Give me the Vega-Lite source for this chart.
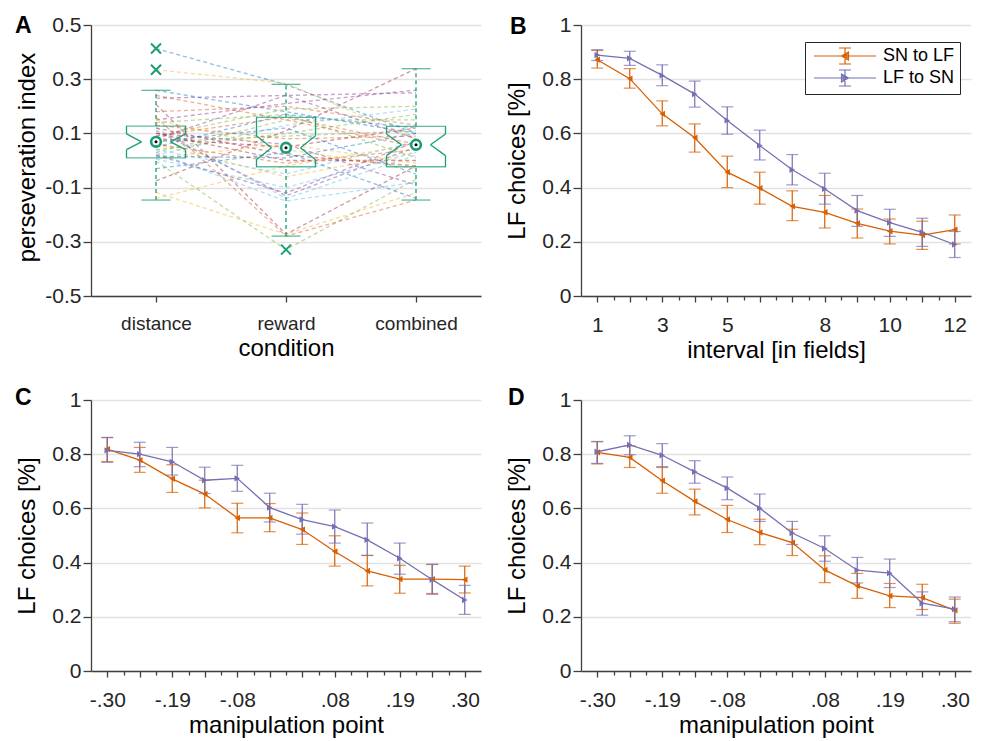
{
  "$schema": "https://vega.github.io/schema/vega-lite/v6.json",
  "padding": {"left": 14, "top": 14, "right": 8, "bottom": 8},
  "columns": 2,
  "spacing": {"column": 100, "row": 104},
  "bounds": "flush",
  "resolve": {"scale": {"color": "independent", "shape": "independent", "x": "independent", "y": "independent"}},
  "datasets": {
    "subj": [
      {"s":"s01","distance":0.413,"reward":0.28,"combined":0.1},
      {"s":"s02","distance":0.24,"reward":0.15,"combined":0.05},
      {"s":"s03","distance":0.335,"reward":0.285,"combined":0.08},
      {"s":"s04","distance":0.23,"reward":0.24,"combined":0.25},
      {"s":"s05","distance":-0.002,"reward":-0.329,"combined":-0.069},
      {"s":"s06","distance":0.12,"reward":-0.14,"combined":0.02},
      {"s":"s07","distance":0.207,"reward":-0.272,"combined":-0.02},
      {"s":"s08","distance":0.259,"reward":0.18,"combined":0.1},
      {"s":"s09","distance":0.18,"reward":0.2,"combined":0.13},
      {"s":"s10","distance":-0.118,"reward":-0.272,"combined":-0.12},
      {"s":"s11","distance":0.15,"reward":0.21,"combined":0.26},
      {"s":"s12","distance":0.09,"reward":0.19,"combined":0.2},
      {"s":"s13","distance":0.03,"reward":-0.15,"combined":-0.08},
      {"s":"s14","distance":-0.075,"reward":0.11,"combined":0.339},
      {"s":"s15","distance":0.05,"reward":0.17,"combined":0.12},
      {"s":"s16","distance":0.16,"reward":-0.279,"combined":-0.146},
      {"s":"s17","distance":0.06,"reward":-0.06,"combined":0.03},
      {"s":"s18","distance":0.11,"reward":-0.13,"combined":0.05},
      {"s":"s19","distance":0.04,"reward":0.1,"combined":0.17},
      {"s":"s20","distance":0.02,"reward":0.13,"combined":0.19},
      {"s":"s21","distance":0.1,"reward":0.0,"combined":0.0},
      {"s":"s22","distance":0.07,"reward":0.12,"combined":-0.05},
      {"s":"s23","distance":0.13,"reward":0.08,"combined":0.09},
      {"s":"s24","distance":0.01,"reward":0.06,"combined":-0.01},
      {"s":"s25","distance":0.08,"reward":0.24,"combined":0.08},
      {"s":"s26","distance":0.07,"reward":0.09,"combined":0.11},
      {"s":"s27","distance":0.04,"reward":-0.05,"combined":0.07},
      {"s":"s28","distance":0.12,"reward":0.02,"combined":-0.02},
      {"s":"s29","distance":-0.03,"reward":0.03,"combined":-0.14},
      {"s":"s30","distance":0.09,"reward":0.16,"combined":0.06},
      {"s":"s31","distance":-0.14,"reward":-0.02,"combined":0.06},
      {"s":"s32","distance":0.1,"reward":0.06,"combined":-0.09},
      {"s":"s33","distance":0.14,"reward":0.17,"combined":0.01},
      {"s":"s34","distance":0.005,"reward":-0.1,"combined":0.03},
      {"s":"s35","distance":0.08,"reward":0.05,"combined":0.12},
      {"s":"s36","distance":0.015,"reward":0.01,"combined":0.1},
      {"s":"s37","distance":0.06,"reward":-0.01,"combined":0.04},
      {"s":"s38","distance":0.15,"reward":0.04,"combined":-0.03},
      {"s":"s39","distance":0.02,"reward":-0.12,"combined":0.07},
      {"s":"s40","distance":0.03,"reward":0.15,"combined":0.15}
    ],
    "box": [
      {"cond":"distance","wlo":-0.146,"q1":0.01,"nlo":0.04,"med":0.069,"nhi":0.098,"q3":0.127,"whi":0.259},
      {"cond":"reward","wlo":-0.279,"q1":-0.023,"nlo":0.003,"med":0.047,"nhi":0.091,"q3":0.159,"whi":0.281},
      {"cond":"combined","wlo":-0.146,"q1":-0.023,"nlo":0.018,"med":0.058,"nhi":0.098,"q3":0.126,"whi":0.339}
    ],
    "out": [
      {"cond":"distance","v":0.413},
      {"cond":"distance","v":0.335},
      {"cond":"reward","v":-0.329}
    ],
    "B": [
      {"x":1,"series":"SN to LF","m":0.872,"lo":0.841,"hi":0.906},
      {"x":2,"series":"SN to LF","m":0.802,"lo":0.767,"hi":0.839},
      {"x":3,"series":"SN to LF","m":0.672,"lo":0.628,"hi":0.72},
      {"x":4,"series":"SN to LF","m":0.584,"lo":0.531,"hi":0.635},
      {"x":5,"series":"SN to LF","m":0.457,"lo":0.4,"hi":0.516},
      {"x":6,"series":"SN to LF","m":0.398,"lo":0.339,"hi":0.457},
      {"x":7,"series":"SN to LF","m":0.331,"lo":0.278,"hi":0.388},
      {"x":8,"series":"SN to LF","m":0.309,"lo":0.251,"hi":0.371},
      {"x":9,"series":"SN to LF","m":0.268,"lo":0.214,"hi":0.321},
      {"x":10,"series":"SN to LF","m":0.239,"lo":0.192,"hi":0.284},
      {"x":11,"series":"SN to LF","m":0.225,"lo":0.172,"hi":0.276},
      {"x":12,"series":"SN to LF","m":0.245,"lo":0.192,"hi":0.299},
      {"x":1,"series":"LF to SN","m":0.889,"lo":0.869,"hi":0.909},
      {"x":2,"series":"LF to SN","m":0.877,"lo":0.851,"hi":0.903},
      {"x":3,"series":"LF to SN","m":0.814,"lo":0.776,"hi":0.853},
      {"x":4,"series":"LF to SN","m":0.745,"lo":0.697,"hi":0.793},
      {"x":5,"series":"LF to SN","m":0.648,"lo":0.597,"hi":0.698},
      {"x":6,"series":"LF to SN","m":0.555,"lo":0.502,"hi":0.612},
      {"x":7,"series":"LF to SN","m":0.466,"lo":0.41,"hi":0.522},
      {"x":8,"series":"LF to SN","m":0.395,"lo":0.339,"hi":0.453},
      {"x":9,"series":"LF to SN","m":0.315,"lo":0.257,"hi":0.371},
      {"x":10,"series":"LF to SN","m":0.271,"lo":0.22,"hi":0.32},
      {"x":11,"series":"LF to SN","m":0.235,"lo":0.183,"hi":0.287},
      {"x":12,"series":"LF to SN","m":0.19,"lo":0.142,"hi":0.238}
    ],
    "C": [
      {"x":1,"series":"SN to LF","m":0.819,"lo":0.773,"hi":0.862},
      {"x":2,"series":"SN to LF","m":0.778,"lo":0.733,"hi":0.825},
      {"x":3,"series":"SN to LF","m":0.709,"lo":0.659,"hi":0.761},
      {"x":4,"series":"SN to LF","m":0.653,"lo":0.602,"hi":0.704},
      {"x":5,"series":"SN to LF","m":0.565,"lo":0.51,"hi":0.619},
      {"x":6,"series":"SN to LF","m":0.565,"lo":0.514,"hi":0.618},
      {"x":7,"series":"SN to LF","m":0.522,"lo":0.467,"hi":0.583},
      {"x":8,"series":"SN to LF","m":0.441,"lo":0.387,"hi":0.499},
      {"x":9,"series":"SN to LF","m":0.369,"lo":0.314,"hi":0.426},
      {"x":10,"series":"SN to LF","m":0.339,"lo":0.287,"hi":0.39},
      {"x":11,"series":"SN to LF","m":0.339,"lo":0.286,"hi":0.393},
      {"x":12,"series":"SN to LF","m":0.337,"lo":0.288,"hi":0.387},
      {"x":1,"series":"LF to SN","m":0.814,"lo":0.77,"hi":0.861},
      {"x":2,"series":"LF to SN","m":0.8,"lo":0.754,"hi":0.844},
      {"x":3,"series":"LF to SN","m":0.772,"lo":0.723,"hi":0.825},
      {"x":4,"series":"LF to SN","m":0.704,"lo":0.655,"hi":0.752},
      {"x":5,"series":"LF to SN","m":0.711,"lo":0.663,"hi":0.759},
      {"x":6,"series":"LF to SN","m":0.603,"lo":0.55,"hi":0.656},
      {"x":7,"series":"LF to SN","m":0.559,"lo":0.505,"hi":0.615},
      {"x":8,"series":"LF to SN","m":0.533,"lo":0.472,"hi":0.594},
      {"x":9,"series":"LF to SN","m":0.484,"lo":0.427,"hi":0.546},
      {"x":10,"series":"LF to SN","m":0.416,"lo":0.357,"hi":0.472},
      {"x":11,"series":"LF to SN","m":0.337,"lo":0.283,"hi":0.394},
      {"x":12,"series":"LF to SN","m":0.262,"lo":0.209,"hi":0.316}
    ],
    "D": [
      {"x":1,"series":"SN to LF","m":0.807,"lo":0.764,"hi":0.846},
      {"x":2,"series":"SN to LF","m":0.788,"lo":0.751,"hi":0.831},
      {"x":3,"series":"SN to LF","m":0.702,"lo":0.656,"hi":0.754},
      {"x":4,"series":"SN to LF","m":0.626,"lo":0.576,"hi":0.671},
      {"x":5,"series":"SN to LF","m":0.559,"lo":0.511,"hi":0.611},
      {"x":6,"series":"SN to LF","m":0.511,"lo":0.466,"hi":0.56},
      {"x":7,"series":"SN to LF","m":0.474,"lo":0.426,"hi":0.523},
      {"x":8,"series":"SN to LF","m":0.373,"lo":0.326,"hi":0.425},
      {"x":9,"series":"SN to LF","m":0.314,"lo":0.268,"hi":0.36},
      {"x":10,"series":"SN to LF","m":0.277,"lo":0.234,"hi":0.323},
      {"x":11,"series":"SN to LF","m":0.271,"lo":0.227,"hi":0.32},
      {"x":12,"series":"SN to LF","m":0.224,"lo":0.176,"hi":0.265},
      {"x":1,"series":"LF to SN","m":0.809,"lo":0.766,"hi":0.847},
      {"x":2,"series":"LF to SN","m":0.834,"lo":0.798,"hi":0.868},
      {"x":3,"series":"LF to SN","m":0.796,"lo":0.751,"hi":0.839},
      {"x":4,"series":"LF to SN","m":0.735,"lo":0.693,"hi":0.776},
      {"x":5,"series":"LF to SN","m":0.675,"lo":0.632,"hi":0.716},
      {"x":6,"series":"LF to SN","m":0.601,"lo":0.552,"hi":0.653},
      {"x":7,"series":"LF to SN","m":0.509,"lo":0.467,"hi":0.552},
      {"x":8,"series":"LF to SN","m":0.452,"lo":0.405,"hi":0.499},
      {"x":9,"series":"LF to SN","m":0.372,"lo":0.325,"hi":0.419},
      {"x":10,"series":"LF to SN","m":0.361,"lo":0.308,"hi":0.413},
      {"x":11,"series":"LF to SN","m":0.25,"lo":0.206,"hi":0.292},
      {"x":12,"series":"LF to SN","m":0.228,"lo":0.182,"hi":0.273}
    ]
  },
  "concat": [
    {
      "width": 390, "height": 271,
      "title": {"text": "A", "dx": -76, "dy": 28},
      "encoding": {
        "x": {"field": "cond", "type": "nominal", "sort": ["distance", "reward", "combined"], "scale": {"type": "point", "padding": 0.5},
          "axis": {"title": "condition", "labelAngle": 0, "tickSize": 6, "grid": false, "labelFontSize": 19}}
      },
      "layer": [
        {"data": {"name": "subj"}, "transform": [{"fold": ["distance", "reward", "combined"], "as": ["cond", "v"]}],
          "mark": {"type": "line", "strokeDash": [4, 3], "strokeWidth": 1.3, "opacity": 0.45},
          "encoding": {
            "y": {"field": "v", "type": "quantitative", "scale": {"domain": [-0.5, 0.5], "nice": false},
              "axis": {"title": "perseveration index", "titleX": -52, "titleY": 132,
                "values": [-0.5,-0.45,-0.4,-0.35,-0.3,-0.25,-0.2,-0.15,-0.1,-0.05,0,0.05,0.1,0.15,0.2,0.25,0.3,0.35,0.4,0.45,0.5],
                "labelExpr": "abs(round(datum.value*20)) % 4 == 2 ? (datum.value < -0.001 ? '-' : '') + format(abs(datum.value), '.1f') : ''",
                "tickSize": {"condition": {"test": "abs(round(datum.value*20)) % 4 == 2", "value": 8}, "value": 5},
                "gridOpacity": {"condition": {"test": "abs(round(datum.value*20)) % 4 == 2", "value": 1}, "value": 0},
                "grid": true}},
            "color": {"field": "s", "type": "nominal", "scale": {"range": ["#0072BD", "#D95319", "#EDB120", "#7E2F8E", "#77AC30", "#4DBEEE", "#A2142F"]}, "legend": null}
          }},
        {"data": {"name": "box"}, "mark": {"type": "rule", "color": "#1b9e77", "strokeWidth": 1.3, "strokeDash": [4, 3]},
          "encoding": {"y": {"field": "q3", "type": "quantitative"}, "y2": {"field": "whi"}}},
        {"data": {"name": "box"}, "mark": {"type": "rule", "color": "#1b9e77", "strokeWidth": 1.3, "strokeDash": [4, 3]},
          "encoding": {"y": {"field": "wlo", "type": "quantitative"}, "y2": {"field": "q1"}}},
        {"data": {"name": "box"}, "transform": [{"fold": ["wlo", "whi"], "as": ["k", "v"]}],
          "mark": {"type": "tick", "orient": "horizontal", "color": "#1b9e77", "size": 29, "thickness": 1.3},
          "encoding": {"y": {"field": "v", "type": "quantitative"}}},
        {"data": {"name": "box"}, "transform": [{"fold": ["q1", "q3"], "as": ["k", "v"]}],
          "mark": {"type": "tick", "orient": "horizontal", "color": "#1b9e77", "size": 60, "thickness": 1.3},
          "encoding": {"y": {"field": "v", "type": "quantitative"}}},
        {"data": {"name": "box"}, "mark": {"type": "rule", "color": "#1b9e77", "strokeWidth": 1.3, "xOffset": -29.5},
          "encoding": {"y": {"field": "q3", "type": "quantitative"}, "y2": {"field": "nhi"}}},
        {"data": {"name": "box"}, "mark": {"type": "rule", "color": "#1b9e77", "strokeWidth": 1.3, "xOffset": -29.5},
          "encoding": {"y": {"field": "nlo", "type": "quantitative"}, "y2": {"field": "q1"}}},
        {"data": {"name": "box"}, "mark": {"type": "rule", "color": "#1b9e77", "strokeWidth": 1.3, "xOffset": 29.5},
          "encoding": {"y": {"field": "q3", "type": "quantitative"}, "y2": {"field": "nhi"}}},
        {"data": {"name": "box"}, "mark": {"type": "rule", "color": "#1b9e77", "strokeWidth": 1.3, "xOffset": 29.5},
          "encoding": {"y": {"field": "nlo", "type": "quantitative"}, "y2": {"field": "q1"}}},
        {"data": {"name": "box"}, "mark": {"type": "rule", "color": "#1b9e77", "strokeWidth": 1.3, "xOffset": -29.5, "x2Offset": -14.5},
          "encoding": {"x2": {"field": "cond"}, "y": {"field": "nhi", "type": "quantitative"}, "y2": {"field": "med"}}},
        {"data": {"name": "box"}, "mark": {"type": "rule", "color": "#1b9e77", "strokeWidth": 1.3, "xOffset": -29.5, "x2Offset": -14.5},
          "encoding": {"x2": {"field": "cond"}, "y": {"field": "nlo", "type": "quantitative"}, "y2": {"field": "med"}}},
        {"data": {"name": "box"}, "mark": {"type": "rule", "color": "#1b9e77", "strokeWidth": 1.3, "xOffset": 29.5, "x2Offset": 14.5},
          "encoding": {"x2": {"field": "cond"}, "y": {"field": "nhi", "type": "quantitative"}, "y2": {"field": "med"}}},
        {"data": {"name": "box"}, "mark": {"type": "rule", "color": "#1b9e77", "strokeWidth": 1.3, "xOffset": 29.5, "x2Offset": 14.5},
          "encoding": {"x2": {"field": "cond"}, "y": {"field": "nlo", "type": "quantitative"}, "y2": {"field": "med"}}},
        {"data": {"name": "box"}, "mark": {"type": "point", "shape": "circle", "size": 95, "filled": true, "fill": "white", "stroke": "#1b9e77", "strokeWidth": 2.6, "opacity": 1},
          "encoding": {"y": {"field": "med", "type": "quantitative"}}},
        {"data": {"name": "box"}, "mark": {"type": "point", "shape": "circle", "size": 9, "filled": true, "color": "#000", "opacity": 1},
          "encoding": {"y": {"field": "med", "type": "quantitative"}}},
        {"data": {"name": "out"}, "mark": {"type": "point", "shape": "M-1,-1L1,1M-1,1L1,-1", "size": 100, "filled": false, "color": "#1b9e77", "strokeWidth": 2, "opacity": 1},
          "encoding": {"y": {"field": "v", "type": "quantitative"}}}
      ]
    },
    {
      "width": 390, "height": 271,
      "title": {"text": "B", "dx": -71, "dy": 28.5},
      "data": {"name": "B"},
      "resolve": {"scale": {"color": "independent", "shape": "independent"}},
      "encoding": {
        "x": {"field": "x", "type": "quantitative", "scale": {"domain": [0.5, 12.5], "nice": false},
          "axis": {"title": "interval [in fields]", "grid": false,
            "values": [1,1.5,2,2.5,3,3.5,4,4.5,5,5.5,6,6.5,7,7.5,8,8.5,9,9.5,10,10.5,11,11.5,12],
            "labelExpr": "indexof([1,3,5,8,10,12], datum.value) >= 0 ? '' + datum.value : ''",
            "tickSize": {"condition": {"test": "datum.value % 1 == 0", "value": 6}, "value": 4}}},
        "color": {"field": "series", "type": "nominal", "scale": {"domain": ["SN to LF", "LF to SN"], "range": ["#d95f02", "#7570b3"]}, "legend": null}
      },
      "layer": [
        {"mark": {"type": "rule", "strokeWidth": 1.2},
          "encoding": {"y": {"field": "lo", "type": "quantitative", "scale": {"domain": [0, 1], "nice": false},
            "axis": {"title": "LF choices [%]", "titleX": -52,
              "values": [0,0.05,0.1,0.15,0.2,0.25,0.3,0.35,0.4,0.45,0.5,0.55,0.6,0.65,0.7,0.75,0.8,0.85,0.9,0.95,1],
              "labelExpr": "round(datum.value*20) % 4 == 0 ? format(datum.value, '.1~f') : ''",
              "tickSize": {"condition": {"test": "round(datum.value*20) % 4 == 0", "value": 8}, "value": 5},
              "gridOpacity": {"condition": {"test": "round(datum.value*20) % 4 == 0", "value": 1}, "value": 0},
              "grid": true}},
            "y2": {"field": "hi"}}},
        {"transform": [{"fold": ["lo", "hi"], "as": ["k", "v"]}],
          "mark": {"type": "tick", "orient": "horizontal", "size": 12, "thickness": 1.2},
          "encoding": {"y": {"field": "v", "type": "quantitative"}}},
        {"mark": {"type": "line", "strokeWidth": 1.3}, "encoding": {"y": {"field": "m", "type": "quantitative"}}},
        {"mark": {"type": "point", "filled": true, "size": 40, "opacity": 1},
          "encoding": {"y": {"field": "m", "type": "quantitative"},
            "shape": {"field": "series", "type": "nominal", "scale": {"domain": ["SN to LF", "LF to SN"], "range": ["triangle-left", "triangle-right"]}, "legend": null}}},
        {"mark": {"type": "point", "filled": false, "opacity": 0, "strokeWidth": 1.2},
          "encoding": {"y": {"field": "m", "type": "quantitative"},
            "color": {"field": "series", "type": "nominal", "scale": {"domain": ["SN to LF", "LF to SN"], "range": ["#d95f02", "#7570b3"]},
              "legend": {"title": null, "orient": "none", "legendX": 224, "legendY": 17, "strokeColor": "#262626", "fillColor": "white", "padding": 5,
                "labelFontSize": 18, "labelColor": "#000", "labelFont": "Liberation Sans", "symbolSize": 100, "labelOffset": 55, "rowPadding": 0,
                "symbolOpacity": 1, "symbolStrokeWidth": 1.2}},
            "shape": {"field": "series", "type": "nominal",
              "scale": {"domain": ["SN to LF", "LF to SN"], "range": [
                "M-1,0H11.4M5.2,-1.6V1.6M4,-1.6H6.4M4,1.6H6.4M5.9,-0.8L4.5,0L5.9,0.8ZM5.6,-0.4L4.9,0L5.6,0.4Z",
                "M-1,0H11.4M5.2,-1.6V1.6M4,-1.6H6.4M4,1.6H6.4M4.5,-0.8L5.9,0L4.5,0.8ZM4.8,-0.4L5.5,0L4.8,0.4Z"]},
              "legend": {"title": null, "orient": "none", "legendX": 224, "legendY": 17, "strokeColor": "#262626", "fillColor": "white", "padding": 5,
                "labelFontSize": 18, "labelColor": "#000", "labelFont": "Liberation Sans", "symbolSize": 100, "labelOffset": 55, "rowPadding": 0,
                "symbolOpacity": 1, "symbolStrokeWidth": 1.2}}}}
      ]
    },
    {
      "width": 390, "height": 271,
      "title": {"text": "C", "dx": -76, "dy": 25},
      "data": {"name": "C"},
      "encoding": {
        "x": {"field": "x", "type": "quantitative", "scale": {"domain": [0.5, 12.5], "nice": false},
          "axis": {"title": "manipulation point", "grid": false,
            "values": [1,1.5,2,2.5,3,3.5,4,4.5,5,5.5,6,6.5,7,7.5,8,8.5,9,9.5,10,10.5,11,11.5,12],
            "labelExpr": "datum.value == 1 ? '-.30' : datum.value == 3 ? '-.19' : datum.value == 5 ? '-.08' : datum.value == 8 ? '.08' : datum.value == 10 ? '.19' : datum.value == 12 ? '.30' : ''",
            "tickSize": {"condition": {"test": "datum.value % 1 == 0", "value": 6}, "value": 4}}},
        "color": {"field": "series", "type": "nominal", "scale": {"domain": ["SN to LF", "LF to SN"], "range": ["#d95f02", "#7570b3"]}, "legend": null}
      },
      "layer": [
        {"mark": {"type": "rule", "strokeWidth": 1.2},
          "encoding": {"y": {"field": "lo", "type": "quantitative", "scale": {"domain": [0, 1], "nice": false},
            "axis": {"title": "LF choices [%]", "titleX": -52,
              "values": [0,0.05,0.1,0.15,0.2,0.25,0.3,0.35,0.4,0.45,0.5,0.55,0.6,0.65,0.7,0.75,0.8,0.85,0.9,0.95,1],
              "labelExpr": "round(datum.value*20) % 4 == 0 ? format(datum.value, '.1~f') : ''",
              "tickSize": {"condition": {"test": "round(datum.value*20) % 4 == 0", "value": 8}, "value": 5},
              "gridOpacity": {"condition": {"test": "round(datum.value*20) % 4 == 0", "value": 1}, "value": 0},
              "grid": true}},
            "y2": {"field": "hi"}}},
        {"transform": [{"fold": ["lo", "hi"], "as": ["k", "v"]}],
          "mark": {"type": "tick", "orient": "horizontal", "size": 12, "thickness": 1.2},
          "encoding": {"y": {"field": "v", "type": "quantitative"}}},
        {"mark": {"type": "line", "strokeWidth": 1.3}, "encoding": {"y": {"field": "m", "type": "quantitative"}}},
        {"mark": {"type": "point", "filled": true, "size": 40, "opacity": 1},
          "encoding": {"y": {"field": "m", "type": "quantitative"},
            "shape": {"field": "series", "type": "nominal", "scale": {"domain": ["SN to LF", "LF to SN"], "range": ["triangle-left", "triangle-right"]}, "legend": null}}}
      ]
    },
    {
      "width": 390, "height": 271,
      "title": {"text": "D", "dx": -73, "dy": 25},
      "data": {"name": "D"},
      "encoding": {
        "x": {"field": "x", "type": "quantitative", "scale": {"domain": [0.5, 12.5], "nice": false},
          "axis": {"title": "manipulation point", "grid": false,
            "values": [1,1.5,2,2.5,3,3.5,4,4.5,5,5.5,6,6.5,7,7.5,8,8.5,9,9.5,10,10.5,11,11.5,12],
            "labelExpr": "datum.value == 1 ? '-.30' : datum.value == 3 ? '-.19' : datum.value == 5 ? '-.08' : datum.value == 8 ? '.08' : datum.value == 10 ? '.19' : datum.value == 12 ? '.30' : ''",
            "tickSize": {"condition": {"test": "datum.value % 1 == 0", "value": 6}, "value": 4}}},
        "color": {"field": "series", "type": "nominal", "scale": {"domain": ["SN to LF", "LF to SN"], "range": ["#d95f02", "#7570b3"]}, "legend": null}
      },
      "layer": [
        {"mark": {"type": "rule", "strokeWidth": 1.2},
          "encoding": {"y": {"field": "lo", "type": "quantitative", "scale": {"domain": [0, 1], "nice": false},
            "axis": {"title": "LF choices [%]", "titleX": -52,
              "values": [0,0.05,0.1,0.15,0.2,0.25,0.3,0.35,0.4,0.45,0.5,0.55,0.6,0.65,0.7,0.75,0.8,0.85,0.9,0.95,1],
              "labelExpr": "round(datum.value*20) % 4 == 0 ? format(datum.value, '.1~f') : ''",
              "tickSize": {"condition": {"test": "round(datum.value*20) % 4 == 0", "value": 8}, "value": 5},
              "gridOpacity": {"condition": {"test": "round(datum.value*20) % 4 == 0", "value": 1}, "value": 0},
              "grid": true}},
            "y2": {"field": "hi"}}},
        {"transform": [{"fold": ["lo", "hi"], "as": ["k", "v"]}],
          "mark": {"type": "tick", "orient": "horizontal", "size": 12, "thickness": 1.2},
          "encoding": {"y": {"field": "v", "type": "quantitative"}}},
        {"mark": {"type": "line", "strokeWidth": 1.3}, "encoding": {"y": {"field": "m", "type": "quantitative"}}},
        {"mark": {"type": "point", "filled": true, "size": 40, "opacity": 1},
          "encoding": {"y": {"field": "m", "type": "quantitative"},
            "shape": {"field": "series", "type": "nominal", "scale": {"domain": ["SN to LF", "LF to SN"], "range": ["triangle-left", "triangle-right"]}, "legend": null}}}
      ]
    }
  ],
  "config": {
    "font": "Liberation Sans",
    "view": {"stroke": null},
    "title": {"fontSize": 23, "fontWeight": "bold", "anchor": "start", "frame": "group", "offset": 0, "baseline": "alphabetic", "color": "#000", "font": "Liberation Sans"},
    "axis": {"labelFont": "Liberation Sans", "labelFontSize": 21, "labelColor": "#262626", "titleFont": "Liberation Sans", "titleFontSize": 24,
      "titleFontWeight": "normal", "titleColor": "#000", "domainColor": "#404040", "domainWidth": 1.3, "tickColor": "#404040", "tickWidth": 1.3,
      "gridColor": "#e2e2e2", "gridWidth": 1.6, "labelOverlap": false, "labelBound": false, "labelFlush": false},
    "axisX": {"labelPadding": 12, "titlePadding": 3},
    "axisY": {"labelPadding": 2}
  }
}
